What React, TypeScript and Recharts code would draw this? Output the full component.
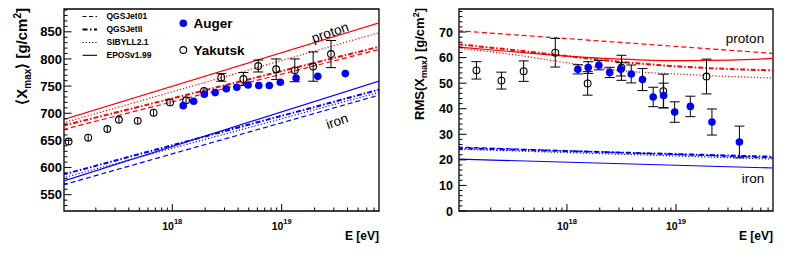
import React from 'react'
import {
  ComposedChart,
  Line,
  Scatter,
  XAxis,
  YAxis,
  ErrorBar,
  ReferenceArea,
  Legend,
} from 'recharts'

const FONT = '"Liberation Sans", Arial, Helvetica, sans-serif'
const RED = '#ff0000'
const BLUE = '#0000ff'

// x axis is log10(E / eV)
const X_MIN = 17.01
const X_MAX = 19.89
const X_MAJOR = [18, 19]
const X_MULT = [1, 2, 3, 4, 5, 6, 7, 8, 9]
const X_TICKS = [17, 18, 19]
  .flatMap((d) => X_MULT.map((m) => d + Math.log10(m)))
  .filter((v) => v >= X_MIN && v <= X_MAX)

const MEAN_DOMAIN = [520, 892]
const MEAN_MAJOR = [550, 600, 650, 700, 750, 800, 850]
const MEAN_TICKS = Array.from({ length: 37 }, (_, i) => 530 + i * 10)

const RMS_DOMAIN = [0, 79]
const RMS_MAJOR = [0, 10, 20, 30, 40, 50, 60, 70]
const RMS_TICKS = Array.from({ length: 40 }, (_, i) => i * 2)

// Auger
const augerLgE = [18.1, 18.195, 18.293, 18.392, 18.494, 18.59, 18.693, 18.791, 18.887, 18.988, 19.132, 19.33, 19.582]
const augerMean = [714, 722, 735, 738, 745, 748, 752, 751, 751, 757, 765, 768, 773]
const augerRms = [55.4, 56.1, 57.0, 54.2, 55.4, 53.6, 51.4, 44.6, 45.2, 38.7, 40.9, 34.8, 27.0]
const augerRmsErr = [1.8, 2.3, 1.8, 2.0, 2.6, 3.5, 4.3, 3.8, 4.8, 4.0, 4.0, 5.1, 6.2]

// Yakutsk
const yakMeanLgE = [17.052, 17.231, 17.406, 17.512, 17.684, 17.829, 17.98, 18.126, 18.29, 18.448, 18.65, 18.786, 18.95, 19.12, 19.288, 19.451]
const yakMean = [648, 655, 671, 688, 686, 701, 720, 724, 741, 766, 763, 787, 781, 779, 786, 809]
const yakMeanErr = [6, 6, 6, 6, 6, 6, 6, 6, 6, 7, 12, 11, 19, 21, 27, 25]
const yakRmsLgE = [17.17, 17.399, 17.603, 17.893, 18.19, 18.5, 18.884, 19.28]
const yakRms = [55.0, 51.0, 54.7, 61.9, 49.9, 56.0, 46.9, 52.6]
const yakRmsErr = [3.4, 3.3, 4.0, 5.6, 4.6, 4.9, 6.6, 6.8]

// model predictions, <Xmax> (straight in lgE)
const meanLineLgE = [17.0, 19.9]
const qgs01PMean = [670, 818]
const qgs2PMean = [677, 823]
const sibPMean = [682, 849]
const eposPMean = [688, 867]
const qgs01FeMean = [568, 734]
const qgs2FeMean = [587, 744]
const sibFeMean = [581, 739]
const eposFeMean = [575, 760]

// model predictions, RMS(Xmax)
const rmsLineLgE = [17.0, 19.9]
const rmsCurveLgE = [17.0, 17.5, 18.0, 18.5, 19.0, 19.5, 19.9]
const qgs01PRms = [70.5, 61.6]
const qgs2PRms = [65.2, 63.0, 60.6, 58.3, 56.6, 55.5, 55.0]
const sibPRms = [63.7, 61.2, 58.0, 54.9, 53.6, 52.6, 52.0]
const eposPRms = [64.1, 62.3, 60.6, 59.4, 58.8, 59.0, 59.7]
const qgs01FeRms = [25.0, 20.8]
const qgs2FeRms = [24.6, 21.2]
const sibFeRms = [24.2, 20.3]
const eposFeRms = [20.3, 16.8]

const MODELS = [
  { name: 'QGSJet01', dash: '5 3', width: 1.2, legendDash: '4 2.5' },
  { name: 'QGSJetII', dash: '5 2 1.5 2', width: 2, legendDash: '5 2.5 1.5 2.5' },
  { name: 'SIBYLL2.1', dash: '1.2 2', width: 1.2, legendDash: '1.2 2' },
  { name: 'EPOSv1.99', dash: undefined, width: 1.2, legendDash: undefined },
]

const pts = (xs: number[], ys: number[], es?: number[]) =>
  xs.map((x, i) => ({ x, y: ys[i], e: es ? es[i] : 0 }))

function XTick(props: any) {
  const { x, y, payload } = props
  const v = payload.value
  const major = X_MAJOR.some((m) => Math.abs(m - v) < 1e-6)
  return (
    <g>
      <line x1={x} y1={y} x2={x} y2={y - (major ? 7 : 3.5)} stroke="#000" strokeWidth={1} />
      {major && (
        <text x={x} y={y + 19} textAnchor="middle" fontSize={10.5} fontWeight="bold" fontFamily={FONT} fill="#000">
          10
          <tspan dy={-6} fontSize={7.5}>
            {Math.round(v)}
          </tspan>
        </text>
      )}
    </g>
  )
}

function YTick(props: any) {
  const { x, y, payload, majors, gap, fs } = props
  const v = payload.value
  const major = majors.includes(v)
  return (
    <g>
      <line x1={x} y1={y} x2={x + (major ? 7.5 : 3.5)} y2={y} stroke="#000" strokeWidth={1} />
      {major && (
        <text x={x - gap} y={y} dy="0.36em" textAnchor="end" fontSize={fs} fontWeight="bold" fontFamily={FONT} fill="#000">
          {v}
        </text>
      )}
    </g>
  )
}

const FilledDot = (p: any) => <circle cx={p.cx} cy={p.cy} r={3.8} fill={BLUE} />
const OpenDot = (p: any) => <circle cx={p.cx} cy={p.cy} r={3.4} fill="none" stroke="#000" strokeWidth={1.1} />

function MeanLegend() {
  const rows = [16.5, 29.5, 42.5, 55.3]
  return (
    <svg width={395} height={70} style={{ display: 'block' }}>
      {MODELS.map((m, i) => (
        <g key={m.name}>
          <line x1={82.5} x2={97} y1={rows[i]} y2={rows[i]} stroke="#000" strokeWidth={m.width === 2 ? 1.8 : 1.1} strokeDasharray={m.legendDash} />
          <text x={106.5} y={rows[i]} dy="0.35em" fontSize={8.5} fontWeight="bold" fontFamily={FONT} fill="#000">
            {m.name}
          </text>
        </g>
      ))}
      <circle cx={183.3} cy={23.3} r={3.8} fill={BLUE} />
      <text x={193.5} y={23.3} dy="0.36em" fontSize={13.5} fontWeight="bold" fontFamily={FONT} fill="#000">
        Auger
      </text>
      <circle cx={183.3} cy={50} r={3.4} fill="none" stroke="#000" strokeWidth={1.1} />
      <text x={193.5} y={50} dy="0.36em" fontSize={13.5} fontWeight="bold" fontFamily={FONT} fill="#000">
        Yakutsk
      </text>
    </svg>
  )
}

function modelLines(lgE: number[], curves: { lgE: number[]; v: number[] }[], color: string) {
  return curves.map((c, i) => (
    <Line
      key={color + i}
      data={pts(c.lgE, c.v)}
      dataKey="y"
      type="monotone"
      stroke={color}
      strokeWidth={MODELS[i].width}
      strokeDasharray={MODELS[i].dash}
      dot={false}
      activeDot={false}
      isAnimationActive={false}
    />
  ))
}

export default function App() {
  const yakMeanPts = pts(yakMeanLgE, yakMean, yakMeanErr)
  const axisCommon = {
    tickSize: 0,
    tickMargin: 0,
    axisLine: false,
    tickLine: false,
    interval: 0 as const,
    allowDataOverflow: true,
  }

  return (
    <div style={{ position: 'absolute', left: 0, top: 0, width: 789, height: 258, background: '#fff' }}>
      <div style={{ position: 'absolute', left: 0, top: 0 }}>
        <ComposedChart width={395} height={258} margin={{ top: 9, right: 16, bottom: 17, left: 24 }}>
          <XAxis dataKey="x" type="number" domain={[X_MIN, X_MAX]} ticks={X_TICKS} tick={<XTick />} height={30} {...axisCommon} />
          <YAxis type="number" domain={MEAN_DOMAIN} ticks={MEAN_TICKS} tick={<YTick majors={MEAN_MAJOR} gap={2} fs={13} />} width={40} {...axisCommon} />
          {modelLines(meanLineLgE, [
            { lgE: meanLineLgE, v: qgs01PMean },
            { lgE: meanLineLgE, v: qgs2PMean },
            { lgE: meanLineLgE, v: sibPMean },
            { lgE: meanLineLgE, v: eposPMean },
          ], RED)}
          {modelLines(meanLineLgE, [
            { lgE: meanLineLgE, v: qgs01FeMean },
            { lgE: meanLineLgE, v: qgs2FeMean },
            { lgE: meanLineLgE, v: sibFeMean },
            { lgE: meanLineLgE, v: eposFeMean },
          ], BLUE)}
          <Scatter data={yakMeanPts.filter((p) => p.e <= 6)} dataKey="y" shape={OpenDot} isAnimationActive={false}>
            <ErrorBar dataKey="e" direction="y" width={0} stroke="#000" strokeWidth={1} />
          </Scatter>
          <Scatter data={yakMeanPts.filter((p) => p.e > 6)} dataKey="y" shape={OpenDot} isAnimationActive={false}>
            <ErrorBar dataKey="e" direction="y" width={5} stroke="#000" strokeWidth={1} />
          </Scatter>
          <Scatter data={pts(augerLgE, augerMean)} dataKey="y" shape={FilledDot} isAnimationActive={false} />
          <ReferenceArea x1={X_MIN} x2={X_MAX} y1={MEAN_DOMAIN[0]} y2={MEAN_DOMAIN[1]} fill="none" stroke="#000" strokeWidth={1.3} />
          <Legend
            layout="vertical"
            align="center"
            verticalAlign="middle"
            wrapperStyle={{ position: 'absolute', left: 0, top: 0, width: 395, height: 70 }}
            content={() => <MeanLegend />}
          />
        </ComposedChart>
      </div>

      <div style={{ position: 'absolute', left: 395, top: 0 }}>
        <ComposedChart width={394} height={258} margin={{ top: 9, right: 16, bottom: 17, left: 24 }}>
          <XAxis dataKey="x" type="number" domain={[X_MIN, X_MAX]} ticks={X_TICKS} tick={<XTick />} height={30} {...axisCommon} />
          <YAxis type="number" domain={RMS_DOMAIN} ticks={RMS_TICKS} tick={<YTick majors={RMS_MAJOR} gap={6} fs={12.5} />} width={40} {...axisCommon} />
          {modelLines(rmsLineLgE, [
            { lgE: rmsLineLgE, v: qgs01PRms },
            { lgE: rmsCurveLgE, v: qgs2PRms },
            { lgE: rmsCurveLgE, v: sibPRms },
            { lgE: rmsCurveLgE, v: eposPRms },
          ], RED)}
          {modelLines(rmsLineLgE, [
            { lgE: rmsLineLgE, v: qgs01FeRms },
            { lgE: rmsLineLgE, v: qgs2FeRms },
            { lgE: rmsLineLgE, v: sibFeRms },
            { lgE: rmsLineLgE, v: eposFeRms },
          ], BLUE)}
          <Scatter data={pts(yakRmsLgE, yakRms, yakRmsErr)} dataKey="y" shape={OpenDot} isAnimationActive={false}>
            <ErrorBar dataKey="e" direction="y" width={5} stroke="#000" strokeWidth={1} />
          </Scatter>
          <Scatter data={pts(augerLgE, augerRms, augerRmsErr)} dataKey="y" shape={FilledDot} isAnimationActive={false}>
            <ErrorBar dataKey="e" direction="y" width={5} stroke="#000" strokeWidth={1} />
          </Scatter>
          <ReferenceArea x1={X_MIN} x2={X_MAX} y1={RMS_DOMAIN[0]} y2={RMS_DOMAIN[1]} fill="none" stroke="#000" strokeWidth={1.3} />
        </ComposedChart>
      </div>

      <svg width={789} height={258} style={{ position: 'absolute', left: 0, top: 0, pointerEvents: 'none' }}>
        <g fontFamily={FONT} fill="#000">
          <text transform="translate(27,8) rotate(-90)" textAnchor="end" fontSize={15} fontWeight="bold">
            ⟨X<tspan dy={4} fontSize={10}>max</tspan>
            <tspan dy={-4}>⟩ [g/cm</tspan>
            <tspan dy={-6} fontSize={10}>2</tspan>
            <tspan dy={6}>]</tspan>
          </text>
          <text transform="translate(423.5,8) rotate(-90)" textAnchor="end" fontSize={13} fontWeight="bold">
            RMS(X<tspan dy={3.5} fontSize={9}>max</tspan>
            <tspan dy={-3.5}>) [g/cm</tspan>
            <tspan dy={-5} fontSize={9}>2</tspan>
            <tspan dy={5}>]</tspan>
          </text>
          <text x={379} y={240} textAnchor="end" fontSize={12} fontWeight="bold">E [eV]</text>
          <text x={773} y={240} textAnchor="end" fontSize={12} fontWeight="bold">E [eV]</text>
          <text transform="translate(330,32.3) rotate(-19)" textAnchor="middle" dy="0.35em" fontSize={13.5}>proton</text>
          <text transform="translate(337,121) rotate(-19)" textAnchor="middle" dy="0.35em" fontSize={13.5}>iron</text>
          <text x={745} y={38.5} textAnchor="middle" dy="0.35em" fontSize={13.5}>proton</text>
          <text x={753} y={178} textAnchor="middle" dy="0.35em" fontSize={13.5}>iron</text>
        </g>
      </svg>
    </div>
  )
}
